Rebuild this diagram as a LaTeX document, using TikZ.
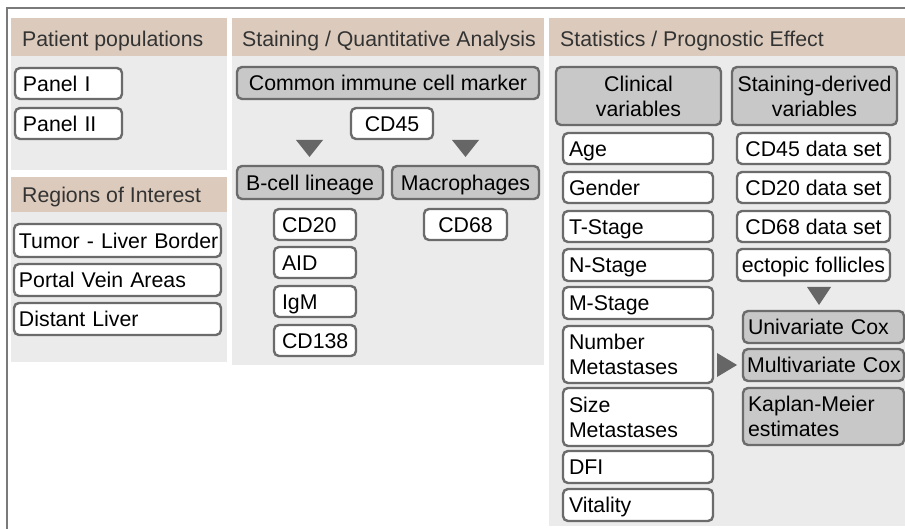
\documentclass[tikz,border=0pt]{standalone}
\usepackage{fontspec}
\setmainfont{Liberation Sans}

\definecolor{edge}{HTML}{6B6B6B}
\definecolor{boxgray}{HTML}{C8C8C8}
\definecolor{beige}{HTML}{DCCBBC}
\definecolor{panel}{HTML}{EBEBEB}
\definecolor{framegray}{HTML}{7A7A7A}
\definecolor{hdrtext}{HTML}{333333}
\definecolor{arrowgray}{HTML}{666666}

\newcommand\fs{\fontsize{21.3}{25}\selectfont}

\begin{document}
\begin{tikzpicture}[x=1pt,y=-1pt,
  every node/.style={font=\fs},
  base/.style={draw=edge, line width=2.4pt, rounded corners=5pt,
               inner ysep=0pt, text=black},
  wbox/.style={base, fill=white},
  gbox/.style={base, fill=boxgray},
  one/.style={text height=15.3pt, text depth=0pt},
  sz/.style 2 args={minimum width=#1, minimum height=#2},
  lft/.style 2 args={align=left, inner xsep=#1, text width=#2},
  hdr/.style={inner sep=0pt, text=hdrtext, text height=15.3pt,
              text depth=0pt, anchor=west},
  tri/.style={fill=arrowgray}
]
\useasboundingbox (0,0) rectangle (905,529);

% outer frame (top and left edges)
\draw[framegray, line width=2.5pt] (7,529) -- (7,8) -- (905,8);

% column headers and panels
\fill[beige] (11,18) rectangle (227,56);
\fill[panel] (11,56) rectangle (227,170);
\fill[beige] (11,177) rectangle (227,212);
\fill[panel] (11,212) rectangle (227,362);
\fill[beige] (232,18) rectangle (544,56);
\fill[panel] (232,56) rectangle (544,365);
\fill[beige] (549,18) rectangle (905,56);
\fill[panel] (549,56) rectangle (905,526);

\node[hdr] (hpat) at (22,38.5) {Patient populations};
\node[hdr] (hroi) at (22,194.5) {Regions of Interest};
\node[hdr] (hsta) at (242,38.5) {Staining / Quantitative Analysis};
\node[hdr] (hsts) at (560,38.5) {Statistics / Prognostic Effect};

% patient populations
\node[wbox, one, sz={107pt}{31pt}, lft={8pt}{91pt}] (p1) at (68.5,83.5) {Panel I};
\node[wbox, one, sz={107pt}{31pt}, lft={8pt}{91pt}] (p2) at (68.5,123.5) {Panel II};

% regions of interest
\node[wbox, one, sz={207pt}{33pt}, lft={5pt}{197pt}] (r1) at (117.5,240.5) {\mbox{Tumor - Liver Border}};
\node[wbox, one, sz={207pt}{32pt}, lft={5pt}{197pt}] (r2) at (117.5,280) {Portal Vein Areas};
\node[wbox, one, sz={207pt}{32pt}, lft={5pt}{197pt}] (r3) at (117.5,319) {Distant Liver};

% staining
\node[gbox, one, sz={302pt}{32pt}] (cm) at (388,83) {Common immune cell marker};
\node[wbox, one, sz={82pt}{31pt}] (cd45) at (392,123.5) {CD45};
\node[gbox, one, sz={146pt}{33pt}] (bl) at (310,182.5) {B-cell lineage};
\node[gbox, one, sz={147pt}{33pt}] (mac) at (465.5,182.5) {Macrophages};
\node[wbox, one, sz={82pt}{31pt}, lft={8pt}{66pt}] (cd20) at (315,224.5) {CD20};
\node[wbox, one, sz={82pt}{31pt}, lft={8pt}{66pt}] (aid) at (315,262.5) {AID};
\node[wbox, one, sz={82pt}{31pt}, lft={8pt}{66pt}] (igm) at (315,301.5) {IgM};
\node[wbox, one, sz={82pt}{31pt}, lft={8pt}{66pt}] (cd138) at (315,340.5) {CD138};
\node[wbox, one, sz={83pt}{31pt}] (cd68) at (465.5,224.5) {CD68};

\coordinate (tl) at (309.5,140);
\coordinate (tr) at (465.5,140);
\fill[tri] (tl) ++(-13.5,0) -- ++(27,0) -- ++(-13.5,17) -- cycle;
\fill[tri] (tr) ++(-13.5,0) -- ++(27,0) -- ++(-13.5,17) -- cycle;

% statistics
\node[gbox, sz={165pt}{58pt}, align=center] (cv) at (638.5,96) {Clinical\\variables};
\node[gbox, sz={165pt}{58pt}, align=center] (sv) at (814.5,96) {Staining-derived\\variables};

\node[wbox, one, sz={150pt}{31pt}, lft={6pt}{138pt}] (age) at (638,148.5) {Age};
\node[wbox, one, sz={150pt}{31pt}, lft={6pt}{138pt}] (gen) at (638,187.5) {Gender};
\node[wbox, one, sz={150pt}{31pt}, lft={6pt}{138pt}] (ts) at (638,226.5) {T-Stage};
\node[wbox, one, sz={150pt}{32pt}, lft={6pt}{138pt}] (ns) at (638,265) {N-Stage};
\node[wbox, one, sz={150pt}{32pt}, lft={6pt}{138pt}] (ms) at (638,303) {M-Stage};
\node[wbox, sz={150pt}{57pt}, lft={6pt}{138pt}] (nm) at (638,354.5) {Number\\Metastases};
\node[wbox, sz={150pt}{58pt}, lft={6pt}{138pt}] (smt) at (638,417) {Size\\Metastases};
\node[wbox, one, sz={150pt}{32pt}, lft={6pt}{138pt}] (dfi) at (638,467) {DFI};
\node[wbox, one, sz={150pt}{32pt}, lft={6pt}{138pt}] (vit) at (638,505) {Vitality};

\node[wbox, one, sz={153pt}{31pt}] (ds45) at (813.5,148.5) {CD45 data set};
\node[wbox, one, sz={153pt}{31pt}] (ds20) at (813.5,187.5) {CD20 data set};
\node[wbox, one, sz={153pt}{31pt}] (ds68) at (813.5,226.5) {CD68 data set};
\node[wbox, one, sz={153pt}{32pt}] (ect) at (813.5,265) {ectopic follicles};

\node[gbox, one, sz={161pt}{32pt}, lft={5pt}{151pt}] (uni) at (823.5,327) {Univariate Cox};
\node[gbox, one, sz={161pt}{32pt}, lft={4pt}{153pt}] (multi) at (823.5,365) {\mbox{Multivariate Cox}};
\node[gbox, sz={161pt}{57pt}, lft={5pt}{151pt}] (km) at (823.5,416.5) {Kaplan-Meier\\estimates};

\coordinate (td) at (819,287);
\coordinate (trt) at (717,365);
\fill[tri] (td) ++(-12,0) -- ++(24,0) -- ++(-12,18) -- cycle;
\fill[tri] (trt) ++(0,-12) -- ++(0,24) -- ++(20,-12) -- cycle;
\end{tikzpicture}
\end{document}
